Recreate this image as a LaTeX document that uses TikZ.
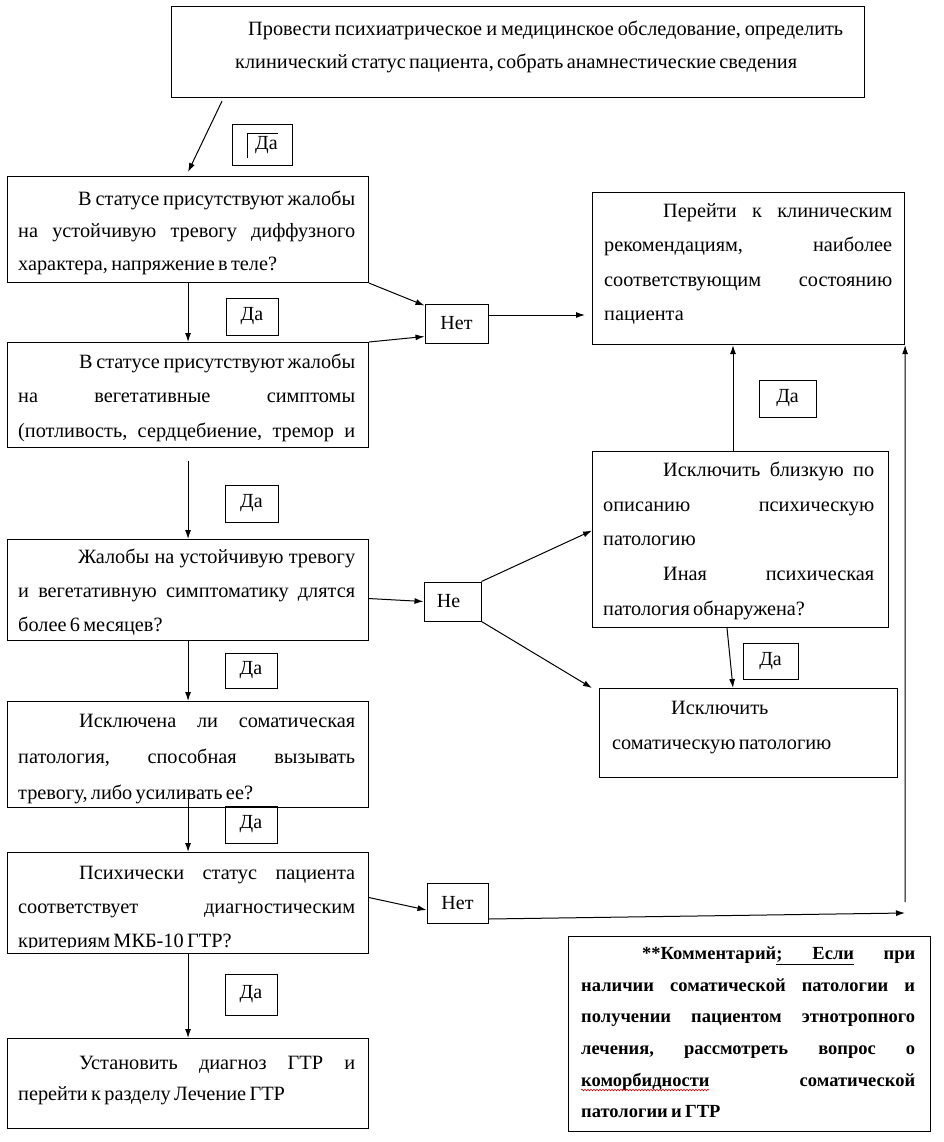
\documentclass[tikz,border=0pt]{standalone}
\usepackage{fontspec}
\setmainfont{Liberation Serif}
\usetikzlibrary{arrows.meta,decorations.pathmorphing}
\newcommand\J[1]{\noindent\hbox to \hsize{#1}\par}
\newcommand\Lf[1]{\noindent#1\par}
\newcommand\fs{\rule{0pt}{15pt}}
\tikzset{
  box/.style={draw, line width=1.1pt, inner sep=0pt, anchor=north west},
  txt/.style={anchor=north west, inner sep=0pt},
  lab/.style={draw, line width=1pt, inner sep=0pt, font=\fontsize{20}{24}\selectfont},
  arr/.style={line width=1pt, -{Latex[length=9pt,width=6pt]}},
  ln/.style={line width=1pt}
}
\begin{document}
\begin{tikzpicture}[x=1pt,y=-1pt]
\fill[white] (0,0) rectangle (943,1142);
\useasboundingbox (0,0) rectangle (943,1142);

% boxes
\node[box, minimum width=693pt, minimum height=91pt] (top) at (171,6) {};
\node[box, minimum width=361pt, minimum height=106pt] (b1) at (7,176) {};
\node[box, minimum width=361pt, minimum height=105pt] (b2) at (7,342) {};
\node[box, minimum width=361pt, minimum height=101pt] (b3) at (7,539) {};
\node[box, minimum width=361pt, minimum height=106pt] (b4) at (7,701) {};
\node[box, minimum width=361pt, minimum height=101pt] (b5) at (7,852) {};
\node[box, minimum width=361pt, minimum height=90pt] (b6) at (7,1038) {};
\node[box, minimum width=312pt, minimum height=152pt] (r1) at (592,192) {};
\node[box, minimum width=296pt, minimum height=176pt] (r2) at (592,451) {};
\node[box, minimum width=298pt, minimum height=89pt] (r3) at (599,688) {};
\node[box, minimum width=362pt, minimum height=195pt] (cm) at (568,936) {};

% texts
\node[txt, text width=608pt] (topt) at (235,20.2) {\fontsize{20.3}{33}\selectfont
\J{\fs\hspace*{13pt}Провести\hfill психиатрическое\hfill и\hfill медицинское\hfill обследование,\hfill определить}
\Lf{клинический статус пациента, собрать анамнестические сведения}};

\node[txt, text width=337pt] (b1t) at (18,190.2) {\fontsize{20.3}{32.5}\selectfont
\J{\fs\hspace*{60pt}В\hfill статусе\hfill присутствуют\hfill жалобы}
\J{на\hfill устойчивую\hfill тревогу\hfill диффузного}
\Lf{характера, напряжение в теле?}};

\node[txt, text width=337pt] (b2t) at (18,353.2) {\fontsize{20.3}{34.5}\selectfont
\J{\fs\hspace*{61pt}В\hfill статусе\hfill присутствуют\hfill жалобы}
\J{на\hfill вегетативные\hfill симптомы}
\J{(потливость,\hfill сердцебиение,\hfill тремор\hfill и}};

\node[txt, text width=337pt] (b3t) at (18,548.2) {\fontsize{20.3}{34}\selectfont
\J{\fs\hspace*{60pt}Жалобы\hfill на\hfill устойчивую\hfill тревогу}
\J{и\hfill вегетативную\hfill симптоматику\hfill длятся}
\Lf{более 6 месяцев?}};

\node[txt, text width=337pt] (b4t) at (18,712.2) {\fontsize{20.3}{36}\selectfont
\J{\fs\hspace*{61pt}Исключена\hfill ли\hfill соматическая}
\J{патология,\hfill способная\hfill вызывать}
\Lf{тревогу, либо усиливать ее?}};

\begin{scope}
\clip (7,852) rectangle (368,947);
\node[txt, text width=337pt] (b5t) at (18,864.2) {\fontsize{20.3}{34}\selectfont
\J{\fs\hspace*{61pt}Психически\hfill статус\hfill пациента}
\J{соответствует\hfill диагностическим}
\Lf{критериям МКБ-10 ГТР?}};
\end{scope}

\node[txt, text width=337pt] (b6t) at (18,1054.2) {\fontsize{20.3}{31}\selectfont
\J{\fs\hspace*{61pt}Установить\hfill диагноз\hfill ГТР\hfill и}
\Lf{перейти к разделу Лечение ГТР}};

\node[txt, text width=288pt] (r1t) at (604,202.2) {\fontsize{20.3}{34.3}\selectfont
\J{\fs\hspace*{59pt}Перейти\hfill к\hfill клиническим}
\J{рекомендациям,\hfill наиболее}
\J{соответствующим\hfill состоянию}
\Lf{пациента}};

\node[txt, text width=271pt] (r2t) at (603,461.2) {\fontsize{20.3}{34.75}\selectfont
\J{\fs\hspace*{60pt}Исключить\hfill близкую\hfill по}
\J{описанию\hfill психическую}
\Lf{патологию}
\J{\hspace*{60pt}Иная\hfill психическая}
\Lf{патология обнаружена?}};

\node[txt, text width=270pt] (r3t) at (612,699.2) {\fontsize{20.3}{35}\selectfont
\Lf{\fs\hspace*{59pt}Исключить}
\Lf{соматическую патологию}};

\node[txt, text width=334pt] (cmt) at (581,944.5) {\fontsize{18.5}{31.6}\selectfont\bfseries
\J{\fs\hspace*{61pt}**Комментарий\underline{;\hspace{30pt}Если}\hfill при}
\J{наличии\hfill соматической\hfill патологии\hfill и}
\J{получении\hfill пациентом\hfill этнотропного}
\J{лечения,\hfill рассмотреть\hfill вопрос\hfill о}
\J{коморбидности\hfill соматической}
\Lf{патологии и ГТР}};
\draw[red!80!black, line width=0.6pt, decorate, decoration={snake, amplitude=0.8pt, segment length=3pt}] (581,1090) -- (709,1090);

% labels
\node[lab, minimum width=60pt, minimum height=41pt] (da0) at (262,145.5) {\hspace*{9pt}Да};
\draw[line width=0.8pt] (247,158) -- (247,133) -- (278,133);
\node[lab, minimum width=52pt, minimum height=37pt] (da1) at (252,316.5) {Да};
\node[lab, minimum width=53pt, minimum height=37pt] (da2) at (251.5,503.5) {Да};
\node[lab, minimum width=52pt, minimum height=35pt] (da5) at (251,670.5) {Да};
\node[lab, minimum width=52pt, minimum height=37pt] (da6) at (251,824.5) {Да};
\node[lab, minimum width=52pt, minimum height=41pt] (da7) at (251,994.5) {Да};
\node[lab, minimum width=57pt, minimum height=37pt] (da3) at (787.5,398.5) {Да};
\node[lab, minimum width=55pt, minimum height=36pt] (da4) at (770.5,661) {Да};
\node[lab, minimum width=63pt, minimum height=39pt] (n1) at (456.5,323.5) {Нет};
\node[lab, minimum width=57pt, minimum height=39pt] (n2) at (452.5,601.5) {\hspace*{-8pt}Не};
\node[lab, minimum width=61pt, minimum height=40pt] (n3) at (457.5,903) {Нет};

\coordinate (c1) at (905,913);
\coordinate (c2) at (905,902);

% connectors
\draw[arr] ([xshift=51pt,yshift=-3pt]top.south west) -- ([yshift=4pt]b1.north);
\draw[arr] (b1.south) -- (b2.north);
\draw[arr] ([yshift=-13pt]b2.south) -- (b3.north);
\draw[arr] (b3.south) -- (b4.north);
\draw[arr] ([yshift=15pt]b4.south) -- (b5.north);
\draw[arr] (b5.south) -- (b6.north);
\draw[arr] (b1.south east) -- ([yshift=-2pt]n1.north west);
\draw[arr] (b2.north east) -- ([yshift=7pt]n1.south west);
\draw[arr, shorten >=7pt] ([yshift=8.5pt]n1.east) -- ([yshift=8.5pt]n1.east -| r1.west);
\draw[arr] ([yshift=-8.5pt]b3.east) -- (n2.west);
\draw[arr] (n2.north east) -- ([yshift=9pt]r2.west);
\draw[arr] (n2.south east) -- ([xshift=-7pt]r3.north west);
\draw[arr] ([xshift=141pt]r2.north west) -- ([xshift=141pt]r1.south west);
\draw[arr] ([xshift=135pt]r2.south west) -- ([xshift=134pt]r3.north west);
\draw[arr] ([yshift=5.5pt]b5.east) -- ([yshift=-7pt]n3.west);
\draw[arr] ([yshift=-16pt]n3.east) -- (c1);
\draw[arr] (c2) -- (r1.south east);
\end{tikzpicture}
\end{document}
